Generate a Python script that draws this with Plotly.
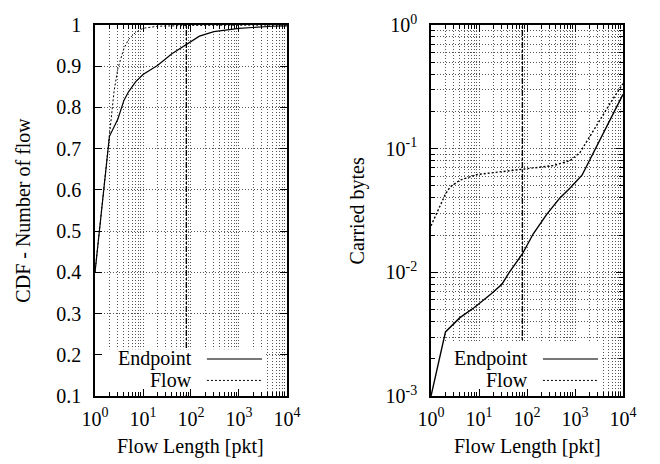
import plotly.graph_objects as go
from plotly.subplots import make_subplots

# ---- data ----
cdf_endpoint_x = [1, 2, 3, 4, 5, 7, 10, 20, 40, 80, 150, 300, 1000, 5000, 10000]
cdf_endpoint_y = [0.40, 0.73, 0.772, 0.817, 0.838, 0.862, 0.880, 0.902, 0.930, 0.953, 0.973, 0.984, 0.992, 0.997, 0.998]

cdf_flow_x = [1, 2, 2.5, 3, 4, 5, 7, 10, 20, 100, 10000]
cdf_flow_y = [0.40, 0.745, 0.84, 0.895, 0.943, 0.965, 0.982, 0.992, 0.997, 0.999, 1.0]

bytes_endpoint_x = [1, 2, 4, 8, 18, 30, 42, 81, 135, 257, 485, 790, 1400, 2400, 4000, 6300, 10000]
bytes_endpoint_y = [0.001, 0.0033, 0.0043, 0.0052, 0.0067, 0.0080, 0.0099, 0.0142, 0.0205, 0.0294,
                    0.040, 0.048, 0.061, 0.092, 0.135, 0.19, 0.275]

bytes_flow_x = [1, 1.4, 2, 2.5, 4, 9, 32, 98, 354, 790, 1265, 2050, 3300, 5350, 8700, 10000]
bytes_flow_y = [0.0238, 0.032, 0.043, 0.049, 0.0556, 0.0617, 0.0655, 0.0688, 0.073, 0.080, 0.093,
                0.126, 0.171, 0.231, 0.31, 0.336]

threshold_x = 80  # vertical dash-dot marker

legend_labels = ["Endpoint", "Flow"]
x_title = "Flow Length [pkt]"
y_title_left = "CDF - Number of flow"
y_title_right = "Carried bytes"

x_tickvals = [1, 10, 100, 1000, 10000]
x_ticktext = ["10<sup>0</sup>", "10<sup>1</sup>", "10<sup>2</sup>", "10<sup>3</sup>", "10<sup>4</sup>"]
y_left_tickvals = [0.1, 0.2, 0.3, 0.4, 0.5, 0.6, 0.7, 0.8, 0.9, 1.0]
y_left_ticktext = ["0.1", "0.2", "0.3", "0.4", "0.5", "0.6", "0.7", "0.8", "0.9", "1"]
y_right_tickvals = [0.001, 0.01, 0.1, 1]
y_right_ticktext = ["10<sup>-3</sup>", "10<sup>-2</sup>", "10<sup>-1</sup>", "10<sup>0</sup>"]

# ---- figure ----
FONT = "Liberation Serif"
GRID = "#555555"
GDASH = "1px,2px"

X_RANGE_LOG = [0, 4]
Y_LEFT_RANGE = [0.1, 1.0]
Y_RIGHT_RANGE_LOG = [-3, 0]

fig = make_subplots(rows=1, cols=2, horizontal_spacing=0.2728)


def minor_vals(decades):
    out = []
    for d in decades:
        for m in range(2, 10):
            out.append(m * 10 ** d)
    return out


def xd(f):  # x-domain fraction -> data value (log axis)
    return 10 ** (X_RANGE_LOG[0] + f * (X_RANGE_LOG[1] - X_RANGE_LOG[0]))


def yd_left(f):
    return Y_LEFT_RANGE[0] + f * (Y_LEFT_RANGE[1] - Y_LEFT_RANGE[0])


def yd_right(f):
    return 10 ** (Y_RIGHT_RANGE_LOG[0] + f * (Y_RIGHT_RANGE_LOG[1] - Y_RIGHT_RANGE_LOG[0]))


# threshold lines (under legend box)
for col, yfun in ((1, yd_left), (2, yd_right)):
    fig.add_trace(go.Scatter(x=[threshold_x, threshold_x], y=[yfun(0), yfun(1)], mode="lines",
                             line=dict(color="black", width=1.4, dash="6px,2px,2px,2px"),
                             showlegend=False, hoverinfo="skip"), 1, col)

# legend background boxes (hide grid behind key)
for col, yfun, top in ((1, yd_left, 0.126), (2, yd_right, 0.147)):
    x0, x1 = xd(0.005), xd(0.88)
    y0, y1 = yfun(0.003), yfun(top)
    fig.add_trace(go.Scatter(x=[x0, x1, x1, x0, x0], y=[y0, y0, y1, y1, y0], mode="lines",
                             fill="toself", fillcolor="white", line=dict(width=0, color="white"),
                             showlegend=False, hoverinfo="skip"), 1, col)

fig.add_trace(go.Scatter(x=cdf_endpoint_x, y=cdf_endpoint_y, mode="lines", name=legend_labels[0],
                         line=dict(color="black", width=1.2), showlegend=False), 1, 1)
fig.add_trace(go.Scatter(x=cdf_flow_x, y=cdf_flow_y, mode="lines", name=legend_labels[1],
                         line=dict(color="black", width=1, dash="2px,2px"), showlegend=False), 1, 1)
fig.add_trace(go.Scatter(x=bytes_endpoint_x, y=bytes_endpoint_y, mode="lines", name=legend_labels[0],
                         line=dict(color="black", width=1.4), showlegend=False), 1, 2)
fig.add_trace(go.Scatter(x=bytes_flow_x, y=bytes_flow_y, mode="lines", name=legend_labels[1],
                         line=dict(color="black", width=1.4, dash="2px,2px"), showlegend=False), 1, 2)

common_axis = dict(showline=True, linecolor="black", linewidth=1.5, mirror="ticks",
                   ticks="inside", ticklen=7, tickwidth=1, tickcolor="black",
                   showgrid=True, gridcolor=GRID, griddash=GDASH, gridwidth=1,
                   zeroline=False, ticklabeloverflow="allow",
                   tickfont=dict(family=FONT, size=20, color="black"))

for c in (1, 2):
    fig.update_xaxes(type="log", range=X_RANGE_LOG, tickmode="array", tickvals=x_tickvals,
                     ticktext=x_ticktext, ticklabelstandoff=4,
                     minor=dict(tickmode="array", tickvals=minor_vals([0, 1, 2, 3]), ticks="inside",
                                ticklen=4, tickcolor="black", showgrid=True,
                                gridcolor=GRID, griddash=GDASH, gridwidth=1),
                     row=1, col=c, **common_axis)

fig.update_yaxes(range=Y_LEFT_RANGE, tickmode="array", tickvals=y_left_tickvals,
                 ticktext=y_left_ticktext, ticklabelstandoff=8, row=1, col=1, **common_axis)
fig.update_yaxes(type="log", range=Y_RIGHT_RANGE_LOG, tickmode="array", tickvals=y_right_tickvals,
                 ticktext=y_right_ticktext, ticklabelstandoff=8,
                 minor=dict(tickmode="array", tickvals=minor_vals([-3, -2, -1]), ticks="inside",
                            ticklen=4, tickcolor="black", showgrid=True,
                            gridcolor=GRID, griddash=GDASH, gridwidth=1),
                 row=1, col=2, **common_axis)

annotations = []
shapes = []
for xr, yr in (("x", "y"), ("x2", "y2")):
    xdm, ydm = xr + " domain", yr + " domain"
    # legend samples
    shapes.append(dict(type="line", xref=xdm, yref=ydm, x0=0.583, x1=0.87, y0=0.1, y1=0.1,
                       line=dict(color="#777777", width=2), layer="above"))
    shapes.append(dict(type="line", xref=xdm, yref=ydm, x0=0.583, x1=0.87, y0=0.042, y1=0.042,
                       line=dict(color="black", width=1, dash="2px,2px"), layer="above"))
    for lbl, yy in zip(legend_labels, [0.1, 0.042]):
        annotations.append(dict(text=lbl, xref=xdm, yref=ydm, x=0.515, y=yy, xanchor="right",
                                yanchor="middle", showarrow=False,
                                font=dict(family=FONT, size=20, color="black")))
    # x title
    annotations.append(dict(text=x_title, xref=xdm, yref=ydm, x=0.5, y=-0.137, xanchor="center",
                            yanchor="middle", showarrow=False,
                            font=dict(family=FONT, size=20, color="black")))

annotations.append(dict(text=y_title_left, xref="paper", yref="paper", x=-0.138, y=0.5,
                        xanchor="center", yanchor="middle", textangle=-90, showarrow=False,
                        font=dict(family=FONT, size=20, color="black")))
annotations.append(dict(text=y_title_right, xref="paper", yref="paper", x=0.498, y=0.5,
                        xanchor="center", yanchor="middle", textangle=-90, showarrow=False,
                        font=dict(family=FONT, size=20, color="black")))

fig.update_layout(width=660, height=464, margin=dict(l=95, r=37, t=16, b=68),
                  paper_bgcolor="white", plot_bgcolor="white", showlegend=False,
                  font=dict(family=FONT, size=20, color="black"),
                  annotations=annotations, shapes=shapes)

# remove the default 8px page margin so the 660x464 figure fills the window exactly
fig.write_html("out.html", config={"displayModeBar": False},
               post_script="document.body.style.margin='0px';")
